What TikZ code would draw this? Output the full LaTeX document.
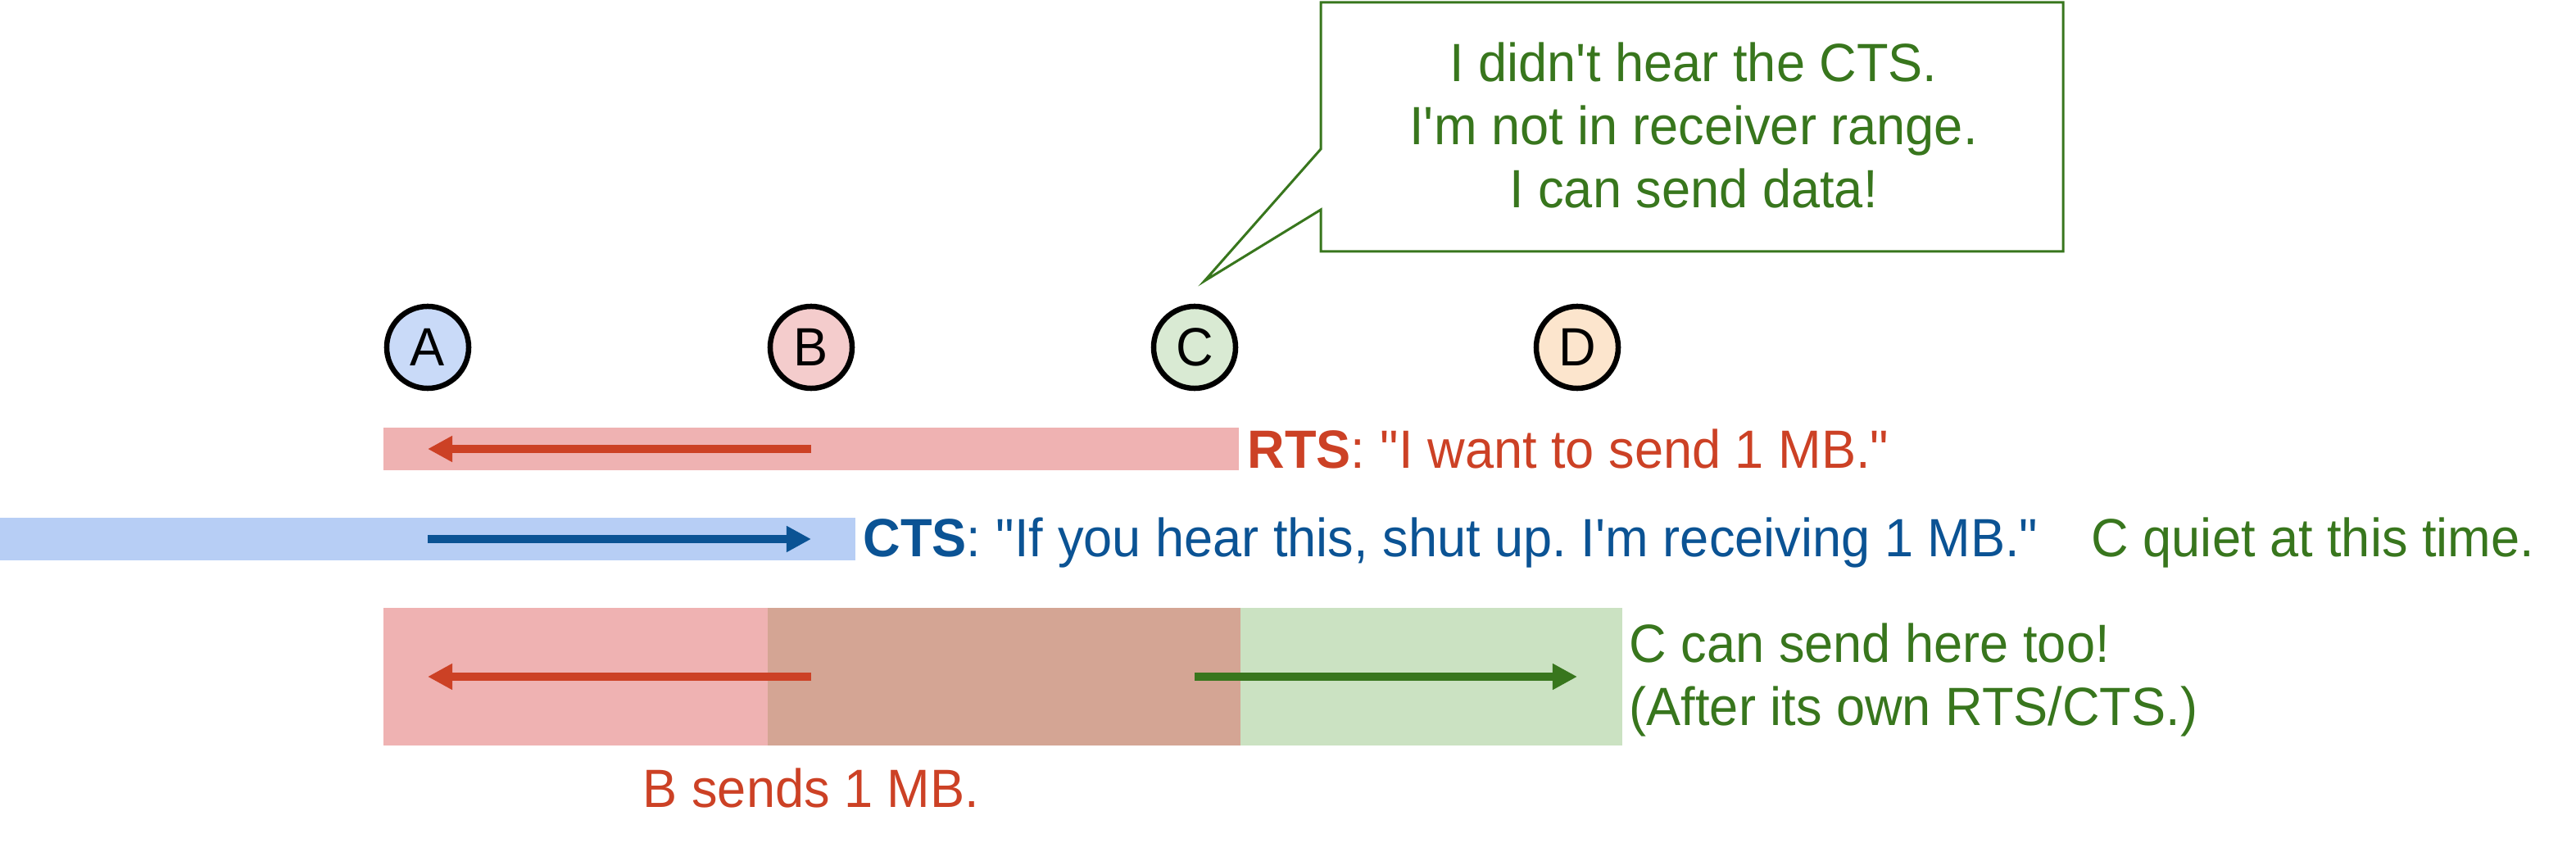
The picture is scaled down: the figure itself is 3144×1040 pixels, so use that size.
\documentclass[tikz,border=0pt]{standalone}
\usepackage{fontspec}
\setmainfont{Liberation Sans}[FakeStretch=0.96]
\usetikzlibrary{arrows.meta}
\frenchspacing
\definecolor{redtxt}{HTML}{CC4125}
\definecolor{bluetxt}{HTML}{0B5394}
\definecolor{greentxt}{HTML}{38761D}
\definecolor{redbar}{HTML}{EFB2B2}
\definecolor{bluebar}{HTML}{B7CEF5}
\definecolor{overlapbar}{HTML}{D4A594}
\definecolor{greenbar}{HTML}{CBE2C2}
\definecolor{fillA}{HTML}{C9DAF8}
\definecolor{fillB}{HTML}{F4CCCC}
\definecolor{fillC}{HTML}{D9EAD3}
\definecolor{fillD}{HTML}{FCE5CD}
\newcommand{\dq}{\textquotedbl}
\newcommand{\sq}{\textquotesingle}
\tikzset{
  txt/.style={inner sep=0pt, font=\fontsize{18.7}{22}\selectfont\frenchspacing},
  station/.style={circle, draw=black, line width=0.065cm, minimum size=1.0cm, inner sep=0pt, font=\fontsize{18.7}{22}\selectfont},
  bar/.style={inner sep=0pt, outer sep=0pt, draw=none},
  sig/.style={line width=0.1cm, -{Triangle[length=0.3cm,width=0.3cm]}},
}
\begin{document}
\begin{tikzpicture}[x=0.01cm,y=-0.01cm]
\useasboundingbox (0,0) rectangle (3144,1040);
% bars
\node[bar, fill=redbar, minimum width=10.44cm, minimum height=0.52cm] (rts) at (990,548) {};
\node[bar, fill=bluebar, minimum width=10.44cm, minimum height=0.52cm] (cts) at (522,658) {};
\node[bar, fill=redbar, minimum width=4.69cm, minimum height=1.68cm] (bsend) at (702.5,826) {};
\node[bar, fill=overlapbar, minimum width=5.77cm, minimum height=1.68cm] (overlap) at (1225.5,826) {};
\node[bar, fill=greenbar, minimum width=4.66cm, minimum height=1.68cm] (csend) at (1747,826) {};
% stations
\node[station, fill=fillA] (A) at (522,424) {A};
\node[station, fill=fillB] (B) at (990,424) {B};
\node[station, fill=fillC] (C) at (1458,424) {C};
\node[station, fill=fillD] (D) at (1925,424) {D};
% arrows
\draw[sig, redtxt] (B.center |- rts.center) -- (A.center |- rts.center);
\draw[sig, bluetxt] (A.center |- cts.center) -- (B.center |- cts.center);
\draw[sig, redtxt] (B.center |- overlap.center) -- (A.center |- overlap.center);
\draw[sig, greentxt] (C.center |- overlap.center) -- (D.center |- overlap.center);
% labels
\node[txt, anchor=base west, text=redtxt] (rtstxt) at (1522,572) {\textbf{RTS}: \dq I want to send 1 MB.\dq};
\node[txt, anchor=base west, text=bluetxt] (ctstxt) at (1053,680) {\textbf{CTS}: \dq If you hear this, shut up. I\sq m receiving 1 MB.\dq};
\node[txt, anchor=base west, text=greentxt] (quiet) at (2552,680) {C quiet at this time.};
\node[txt, anchor=base west, text=greentxt] (can1) at (1988,808) {C can send here too!};
\node[txt, anchor=base west, text=greentxt] (can2) at (1988,885) {(After its own RTS/CTS.)};
\node[txt, anchor=base, text=redtxt] (bsendtxt) at (990,985) {B sends 1 MB.};
% callout
\draw[greentxt, line width=0.03cm, line join=miter]
  (1612,3) -- (2518,3) -- (2518,307) -- (1612,307) -- (1612,256) -- (1470,343) -- (1612,182) -- cycle;
\node[txt, anchor=base, text=greentxt] (call1) at (2067,100) {I didn\sq t hear the CTS.};
\node[txt, anchor=base, text=greentxt] (call2) at (2067,177) {I\sq m not in receiver range.};
\node[txt, anchor=base, text=greentxt] (call3) at (2067,254) {I can send data!};
\end{tikzpicture}
\end{document}
